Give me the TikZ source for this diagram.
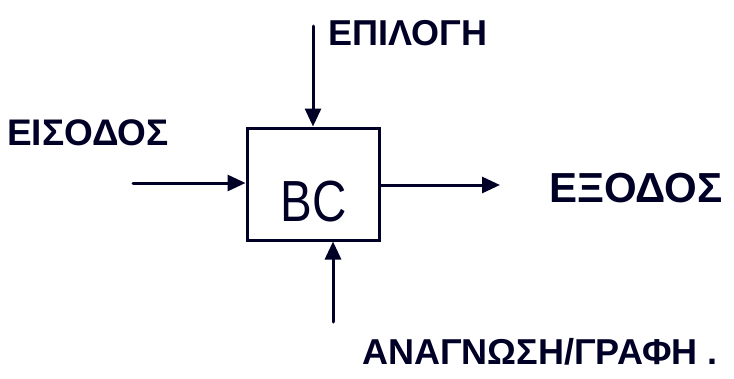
\documentclass[tikz,border=0pt]{standalone}
\usepackage{fontspec}
\setmainfont{Liberation Sans}
\usetikzlibrary{arrows.meta}
\begin{document}
\begin{tikzpicture}[x=1pt,y=-1pt,
  pen/.style={line width=3pt,draw=black!85!blue,line cap=round},
  arr/.style={pen,-{Triangle[length=18pt,width=16pt]}},
  lbl/.style={font=\fontsize{37}{37}\selectfont\bfseries,inner sep=0pt,text=black!85!blue},
  box/.style={pen,minimum width=132pt,minimum height=112pt,inner sep=0pt}]
\useasboundingbox (0,0) rectangle (734,378);
\node[box] (bc) at (313,184) {};
\node[font=\fontsize{58}{58}\selectfont,text=black!85!blue,inner sep=0pt] (bclbl) at (314,202) {\scalebox{0.82}[1]{BC}};
\coordinate (topin) at (313,26);
\coordinate (leftin) at (133,183);
\coordinate (rightout) at (500,185);
\coordinate (botin) at (333,322);
\draw[arr] (topin) -- (topin |- bc.north);
\draw[arr] (leftin) -- (bc.west |- leftin);
\draw[arr] (bc.east |- rightout) -- (rightout);
\draw[arr] (botin) -- (botin |- bc.south);
\node[lbl,font=\fontsize{36}{36}\selectfont\bfseries] (epilogi) at (408,33) {ΕΠΙΛΟΓΗ};
\node[lbl] (eisodos) at (88,133) {ΕΙΣΟΔΟΣ};
\node[lbl,font=\fontsize{42}{42}\selectfont\bfseries] (exodos) at (636,188) {ΕΞΟΔΟΣ};
\node[lbl,font=\fontsize{36}{36}\selectfont\bfseries] (anagn) at (540,352) {ΑΝΑΓΝΩΣΗ/ΓΡΑΦΗ .};
\end{tikzpicture}
\end{document}
